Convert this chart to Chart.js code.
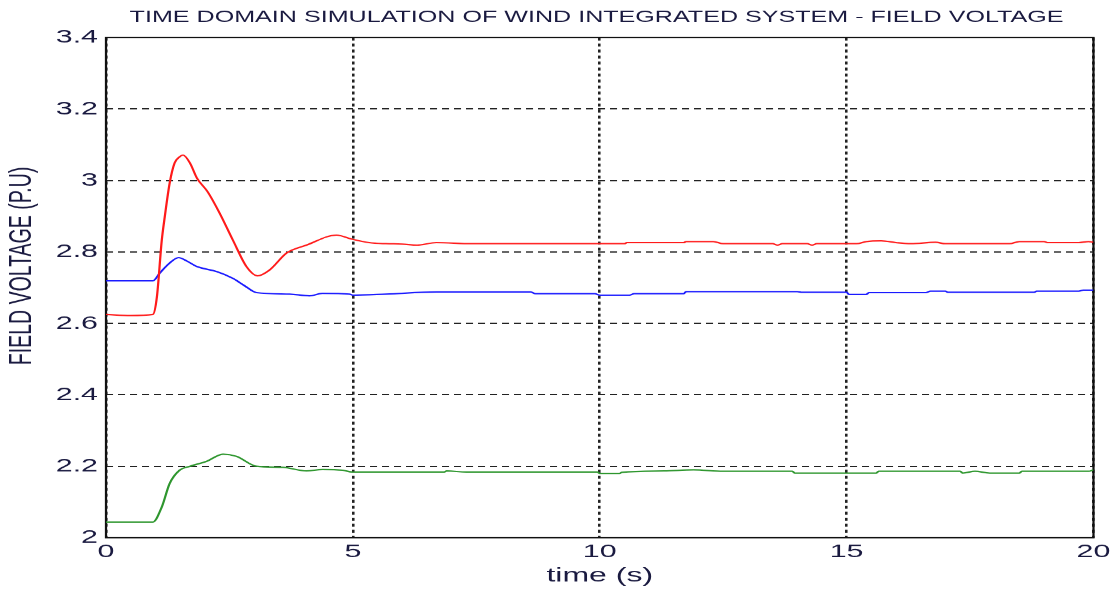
<!DOCTYPE html>
<html>
<head>
<meta charset="utf-8">
<script src="https://cdn.jsdelivr.net/npm/chart.js@4.4.1/dist/chart.umd.min.js"></script>
<style>
  html, body { margin: 0; padding: 0; background: #fff; }
  #chartField { display: block; width: 1115px; height: 589px; }
</style>
</head>
<body>
<canvas id="chartField" width="697" height="589" style="width:1115px;height:589px"></canvas>
<script>
// the source picture is stretched sideways, so the chart is laid out 697 wide and shown at 1115
const STRETCH = 1.6;
const TITLE = "TIME DOMAIN SIMULATION OF WIND INTEGRATED SYSTEM - FIELD VOLTAGE";
const X_LABEL = "time (s)";
const Y_LABEL = "FIELD VOLTAGE (P.U)";
const X_RANGE = [0, 20, 5];
const Y_RANGE = [2, 3.4, 0.2];

const redT = [0, 0.5, 0.95, 1.03, 1.13, 1.19, 1.29, 1.39, 1.49, 1.56, 1.70, 1.84, 2.06, 2.30, 2.57, 2.85, 3.07, 3.31, 3.66, 4.06, 4.67, 4.97, 5.33, 5.67, 6.0, 6.3, 6.69, 7.4, 10.5, 10.55, 11.7, 11.75, 12.3, 12.5, 13.5, 13.6, 13.7, 14.2, 14.3, 14.4, 15.2, 15.4, 15.7, 16.0, 16.3, 16.8, 17.0, 18.3, 18.5, 19.0, 19.07, 19.7, 19.9, 20];
const redV = [2.625, 2.622, 2.625, 2.673, 2.833, 2.898, 2.993, 3.049, 3.066, 3.071, 3.049, 3.007, 2.968, 2.909, 2.833, 2.758, 2.733, 2.749, 2.797, 2.819, 2.847, 2.836, 2.826, 2.823, 2.822, 2.819, 2.826, 2.823, 2.823, 2.826, 2.826, 2.829, 2.829, 2.823, 2.823, 2.819, 2.823, 2.823, 2.819, 2.823, 2.823, 2.829, 2.831, 2.826, 2.823, 2.827, 2.823, 2.823, 2.829, 2.829, 2.826, 2.826, 2.829, 2.827];

const blueT = [0, 0.95, 1.09, 1.29, 1.47, 1.63, 1.84, 2.24, 2.57, 2.80, 3.05, 3.72, 4.12, 4.38, 4.93, 5.0, 5.67, 6.7, 8.6, 8.7, 9.9, 10.0, 10.6, 10.7, 11.7, 11.75, 14.0, 14.1, 15.0, 15.05, 15.4, 15.45, 16.6, 16.7, 17.0, 17.05, 18.8, 18.85, 19.7, 19.8, 20];
const blueV = [2.719, 2.719, 2.741, 2.769, 2.784, 2.775, 2.759, 2.745, 2.726, 2.706, 2.686, 2.682, 2.677, 2.684, 2.682, 2.679, 2.682, 2.688, 2.688, 2.683, 2.683, 2.679, 2.679, 2.683, 2.683, 2.689, 2.689, 2.687, 2.687, 2.681, 2.681, 2.686, 2.686, 2.690, 2.690, 2.687, 2.687, 2.690, 2.690, 2.693, 2.693];

const greenT = [0, 0.95, 1.13, 1.29, 1.49, 1.70, 2.04, 2.37, 2.64, 3.05, 3.58, 4.06, 4.38, 4.79, 4.99, 6.85, 6.9, 7.3, 9.95, 10.0, 10.4, 10.45, 11.3, 11.9, 12.5, 13.9, 13.95, 15.6, 15.65, 17.3, 17.35, 17.6, 17.9, 18.5, 18.55, 19.9, 20];
const greenV = [2.044, 2.044, 2.086, 2.152, 2.189, 2.200, 2.214, 2.234, 2.228, 2.200, 2.197, 2.187, 2.191, 2.189, 2.184, 2.184, 2.187, 2.184, 2.184, 2.180, 2.180, 2.183, 2.187, 2.190, 2.186, 2.186, 2.181, 2.181, 2.186, 2.186, 2.181, 2.186, 2.181, 2.181, 2.186, 2.186, 2.190];

const FONT = "'Liberation Sans', Arial, sans-serif";
const TEXT_COLOR = "#1a1a40";

function toPoints(ts, vs) {
  return ts.map((t, i) => ({ x: t, y: vs[i] }));
}

function lineSet(label, ts, vs, color) {
  return {
    label: label,
    data: toPoints(ts, vs),
    borderColor: color,
    borderWidth: 1.4,
    pointRadius: 0,
    cubicInterpolationMode: "monotone",
    fill: false,
  };
}

// box round the plot area and the title centred over it
const frameAndTitle = {
  id: "frameAndTitle",
  beforeDatasetsDraw(chart) {
    const { ctx, chartArea: a } = chart;
    ctx.save();
    ctx.strokeStyle = "#111";
    ctx.lineWidth = 1.4;
    ctx.strokeRect(a.left, a.top, a.right - a.left, a.bottom - a.top);
    ctx.restore();
  },
  afterDraw(chart) {
    const { ctx, chartArea: a } = chart;
    ctx.save();
    ctx.font = "15.7px " + FONT;
    ctx.fillStyle = TEXT_COLOR;
    ctx.textAlign = "center";
    ctx.textBaseline = "middle";
    ctx.fillText(TITLE, (a.left + a.right) / 2 - 2, 17.5);
    ctx.restore();
  },
};

const ctxField = document.getElementById("chartField");
new Chart(ctxField, {
  type: "line",
  data: {
    datasets: [
      lineSet("Red", redT, redV, "#ff1a1a"),
      lineSet("Blue", blueT, blueV, "#1a1aff"),
      lineSet("Green", greenT, greenV, "#2e962e"),
    ],
  },
  options: {
    responsive: false,
    devicePixelRatio: STRETCH,
    animation: false,
    layout: { padding: { top: 37.5, right: 12, left: 0, bottom: 0 } },
    scales: {
      x: {
        type: "linear",
        min: X_RANGE[0],
        max: X_RANGE[1],
        afterFit: (scale) => { scale.height = 51.5; },
        ticks: {
          stepSize: X_RANGE[2],
          padding: 3,
          color: TEXT_COLOR,
          font: { family: FONT, size: 19 },
          maxRotation: 0,
        },
        grid: { color: "#222", lineWidth: 1.6, drawTicks: false },
        border: { display: false, dash: [3, 3] },
        title: {
          display: true,
          text: X_LABEL,
          color: TEXT_COLOR,
          font: { family: FONT, size: 20 },
          padding: { top: 0, bottom: 1 },
        },
      },
      y: {
        min: Y_RANGE[0],
        max: Y_RANGE[1],
        afterFit: (scale) => { scale.width = 66.25; },
        ticks: {
          stepSize: Y_RANGE[2],
          padding: 5,
          color: TEXT_COLOR,
          font: { family: FONT, size: 19 },
          callback: (v) => String(parseFloat(v.toFixed(1))),
        },
        grid: { color: "#222", lineWidth: 1.3, drawTicks: false },
        border: { display: false, dash: [4.4, 3.1] },
        title: {
          display: true,
          // leading spaces lift the label up the axis, as in the source
          text: "\u00a0".repeat(8) + Y_LABEL,
          color: TEXT_COLOR,
          font: { family: FONT, size: 19.5 },
          padding: { top: 2, bottom: 0 },
        },
      },
    },
    plugins: {
      legend: { display: false },
      tooltip: { enabled: false },
    },
  },
  plugins: [frameAndTitle],
});
</script>
</body>
</html>
